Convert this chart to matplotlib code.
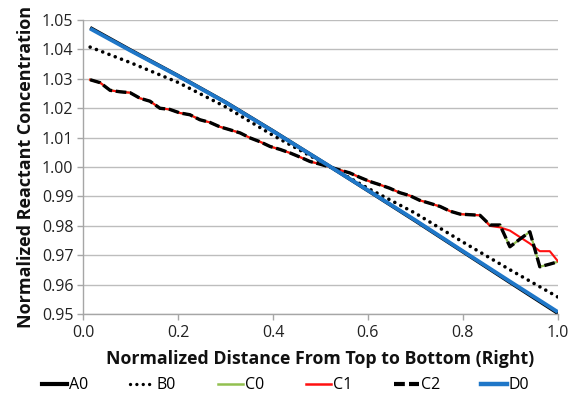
import matplotlib
matplotlib.use("Agg")
import matplotlib.pyplot as plt
from matplotlib.lines import Line2D

plt.rcParams['font.family'] = ['Open Sans', 'DejaVu Sans']

# ---- data ----
x_line = [0.015, 0.1, 0.2, 0.3, 0.4, 0.52, 0.6, 0.7, 0.8, 0.9, 1.0]
a0 = [1.0474, 1.0398, 1.0311, 1.0221, 1.0123, 1.0002, 0.9920, 0.9817, 0.9712, 0.9607, 0.9503]
d0 = [1.0471, 1.0396, 1.0310, 1.0220, 1.0122, 1.0002, 0.9921, 0.9819, 0.9714, 0.9610, 0.9507]

x_b = [0.015, 0.1, 0.2, 0.3, 0.4, 0.5, 0.52, 0.6, 0.7, 0.8, 0.9, 1.0]
b0 = [1.0408, 1.0355, 1.0288, 1.0205, 1.0108, 1.0019, 1.0001, 0.9928, 0.9843, 0.9745, 0.9650, 0.9558]

x_c = [0.015, 0.036, 0.057, 0.078, 0.099, 0.12, 0.141, 0.162, 0.183, 0.204,
       0.225, 0.246, 0.267, 0.288, 0.309, 0.331, 0.352, 0.373, 0.394, 0.415,
       0.436, 0.457, 0.478, 0.499, 0.52, 0.541, 0.562, 0.583, 0.604, 0.625,
       0.646, 0.667, 0.688, 0.709, 0.73, 0.752, 0.773, 0.794, 0.815, 0.836,
       0.857, 0.878, 0.899, 0.92, 0.941, 0.962, 0.983, 1.0]
c2 = [1.0297, 1.0287, 1.0261, 1.0256, 1.0253, 1.0234, 1.0224, 1.0200, 1.0196, 1.0184,
      1.0178, 1.0161, 1.0152, 1.0137, 1.0127, 1.0116, 1.0099, 1.0086, 1.0070, 1.0060,
      1.0048, 1.0034, 1.0019, 1.0010, 1.0000, 0.9990, 0.9980, 0.9965, 0.9951, 0.9940,
      0.9928, 0.9913, 0.9903, 0.9887, 0.9877, 0.9866, 0.9850, 0.9840, 0.9838, 0.9836,
      0.9803, 0.9803, 0.9729, 0.9755, 0.9780, 0.9661, 0.9670, 0.9678]
c0 = list(c2)
c1 = c2[:40] + [0.9800, 0.9795, 0.9784, 0.9762, 0.9740, 0.9714, 0.9714, 0.9680]

x_ticks = [0.0, 0.2, 0.4, 0.6, 0.8, 1.0]
y_ticks = [0.95, 0.96, 0.97, 0.98, 0.99, 1.00, 1.01, 1.02, 1.03, 1.04, 1.05]

# ---- figure ----
fig = plt.figure(figsize=(5.71, 4.09), dpi=100)
ax = fig.add_axes([0.1454, 0.232, 0.8316, 0.719])

grid_c = '#BDBDBD'
ax.plot(x_line, a0, color='black', lw=2.6, solid_capstyle='butt', zorder=3)
ax.plot(x_b, b0, color='black', lw=2.6, linestyle=(0, (0.01, 1.85)),
        dash_capstyle='round', zorder=3)
ax.plot(x_c, c0, color='#92C050', lw=1.6, zorder=3)
ax.plot(x_c, c1, color='#FF1010', lw=1.5, zorder=4)
ax.plot(x_c, c2, color='black', lw=2.4, linestyle=(0, (3.2, 1.1)), zorder=5)
ax.plot(x_line, d0, color='#1F77C8', lw=2.8, solid_capstyle='butt', zorder=6)

ax.set_xlim(0, 1.0)
ax.set_ylim(0.95, 1.05)
ax.set_xticks(x_ticks)
ax.set_xticklabels([f'{v:.1f}' for v in x_ticks])
ax.set_yticks(y_ticks)
ax.set_yticklabels([f'{v:.2f}' for v in y_ticks])
ax.yaxis.grid(True, color=grid_c, lw=1.0)
ax.set_axisbelow(True)
for s in ['top', 'right']:
    ax.spines[s].set_visible(False)
for s in ['left', 'bottom']:
    ax.spines[s].set_color('#A6A6A6')
    ax.spines[s].set_linewidth(1.0)
ax.tick_params(axis='both', direction='out', length=4, width=1.0, color='#A6A6A6',
               labelsize=11.5, labelcolor='#222222')
ax.tick_params(axis='x', pad=4)
ax.tick_params(axis='y', pad=3)

ax.set_xlabel('Normalized Distance From Top to Bottom (Right)', fontsize=12.8,
              fontweight='bold', labelpad=6, color='#111111')
ax.set_ylabel('Normalized Reactant Concentration', fontsize=13,
              fontweight='bold', labelpad=5, color='#111111')

handles = [
    Line2D([], [], color='black', lw=3.0),
    Line2D([], [], color='black', lw=2.4, linestyle=(0, (0.01, 1.9)), dash_capstyle='round'),
    Line2D([], [], color='#92C050', lw=1.8),
    Line2D([], [], color='#FF1010', lw=1.8),
    Line2D([], [], color='black', lw=3.0, linestyle=(0, (2.6, 1.0))),
    Line2D([], [], color='#1F77C8', lw=3.2),
]
labels = ['A0', 'B0', 'C0', 'C1', 'C2', 'D0']
fig.legend(handles, labels, loc='center', bbox_to_anchor=(0.5, 0.058), ncol=6,
           frameon=False, fontsize=11.5, handlelength=1.6, handletextpad=0.1,
           columnspacing=2.6)

fig.savefig('out.png', dpi=100)
